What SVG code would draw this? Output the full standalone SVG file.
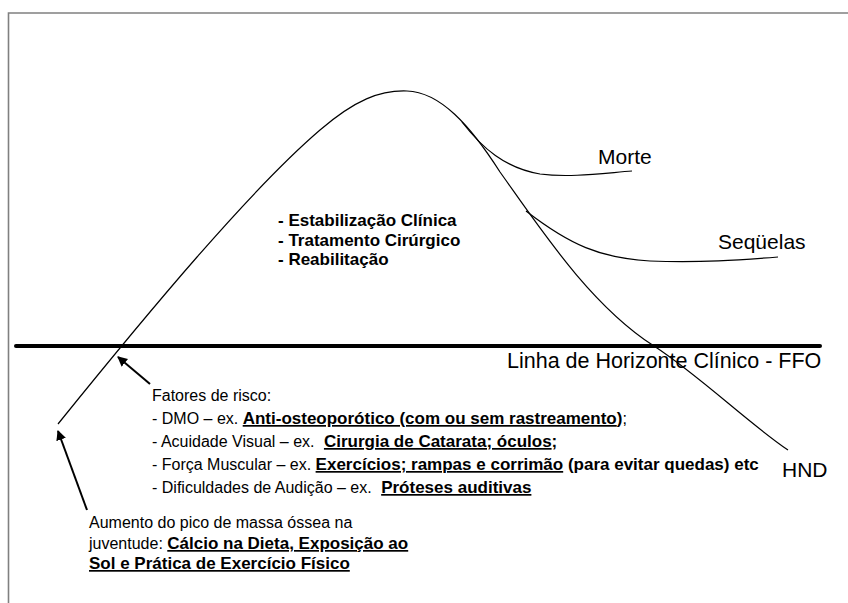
<svg xmlns="http://www.w3.org/2000/svg" width="848" height="603" viewBox="0 0 848 603">
<style>
.t{font-family:"Liberation Sans",Arial,sans-serif;fill:#000}
.lbl{font-size:21px}
.lst{font-size:16px}
.b{font-weight:bold;font-size:17px}
.u{text-decoration:underline}
.curve{fill:none;stroke:#000;stroke-width:1.2}
.arrow{fill:none;stroke:#000;stroke-width:2}
</style>
<defs>
<marker id="ah" viewBox="0 0 10 10" refX="9" refY="5" markerWidth="5" markerHeight="5" orient="auto" markerUnits="strokeWidth">
<path d="M0,0 L10,5 L0,10 z" fill="#000"/>
</marker>
</defs>
<rect width="848" height="603" fill="#fff"/>
<path d="M8.5 603 V13 H848" fill="none" stroke="#808080" stroke-width="1.6"/>
<g id="horizon">
<line x1="16" y1="346" x2="820" y2="346" stroke="#000" stroke-width="4" stroke-linecap="round"/>
<text class="t lbl" x="507" y="368" style="font-size:21.5px">Linha de Horizonte Clínico - FFO</text>
</g>
<g id="connectors">
<path id="main-curve" class="curve" d="M58 424 C150 310 250 190 320 130 C355 100 380 90 407 91 C440 92 470 125 500 172 C540 228 590 305 654 346 C700 376 748 423 788 450"/>
<path id="morte-curve" class="curve" d="M462 122 C482 148 505 168 540 174 C570 178 605 173 632 171"/>
<path id="sequelas-curve" class="curve" d="M526 211 C570 245 600 258 650 261 C700 263 740 260 778 257"/>
<line class="arrow" x1="150" y1="384" x2="118" y2="357" marker-end="url(#ah)"/>
<line class="arrow" x1="87" y1="510" x2="58" y2="431" marker-end="url(#ah)"/>
</g>
<g id="morte"><text class="t lbl" x="598" y="164">Morte</text></g>
<g id="sequelas"><text class="t lbl" x="718" y="249">Seqüelas</text></g>
<g id="hnd"><text class="t lbl" x="782" y="477">HND</text></g>
<g id="treatment">
<text class="t b" x="278" y="226">- Estabilização Clínica</text>
<text class="t b" x="278" y="246">- Tratamento Cirúrgico</text>
<text class="t b" x="278" y="265">- Reabilitação</text>
</g>
<g id="risk-factors">
<text class="t lst" x="152" y="401">Fatores de risco:</text>
<text class="t lst" x="152" y="424">- DMO – ex. <tspan class="b u">Anti-osteoporótico (com ou sem rastreamento</tspan><tspan class="b">)</tspan>;</text>
<text class="t lst" x="152" y="447">- Acuidade Visual – ex. <tspan class="b u" dx="5">Cirurgia de Catarata; óculos</tspan><tspan class="b">;</tspan></text>
<text class="t lst" x="152" y="470">- Força Muscular – ex. <tspan class="b u">Exercícios; rampas e corrimão</tspan><tspan class="b"> (para evitar quedas) etc</tspan></text>
<text class="t lst" x="152" y="493">- Dificuldades de Audição – ex. <tspan class="b u" dx="5">Próteses auditivas</tspan></text>
</g>
<g id="bone-mass">
<text class="t lst" x="89" y="528">Aumento do pico de massa óssea na</text>
<text class="t lst" x="89" y="549">juventude: <tspan class="b u">Cálcio na Dieta, Exposição ao</tspan></text>
<text class="t b u" x="89" y="569">Sol e Prática de Exercício Físico</text>
</g>
</svg>
